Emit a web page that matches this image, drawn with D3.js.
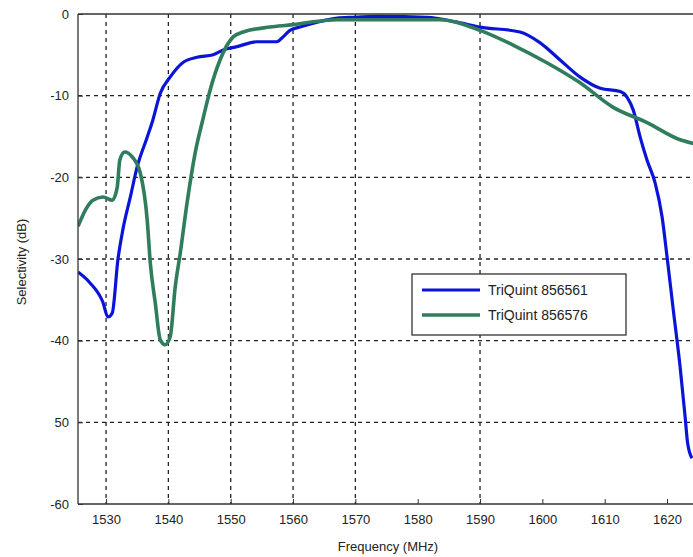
<!DOCTYPE html>
<html>
<head>
<meta charset="utf-8">
<script src="https://cdn.jsdelivr.net/npm/d3@7"></script>
<style>
  body { margin: 0; background: #fff; }
  text { font-family: "Liberation Sans", Arial, sans-serif; fill: #222; }
</style>
</head>
<body>
<div id="chart"></div>
<script>
// Frequency ticks and selectivity ticks
const xTicks = [1530, 1540, 1550, 1560, 1570, 1580, 1590, 1600, 1610, 1620];
const xGrid = [1530, 1540, 1550, 1560, 1570, 1590];   // only these show in the picture
const yTicks = [0, -10, -20, -30, -40, -50, -60];
const yTickLabels = ["0", "-10", "-20", "-30", "-40", "50", "-60"];

// TriQuint 856561 (blue)
const blueFreq = [1525.5, 1527.4, 1529.5, 1530.3, 1531.0, 1531.9, 1532.7, 1533.9, 1535.0, 1536.6,
  1537.5, 1538.7, 1540.3, 1542.4, 1544.6, 1547.2, 1548.8, 1551.0, 1554.2, 1557.4,
  1558.4, 1559.5, 1561.1, 1563.9, 1567.1, 1569.6, 1574.0, 1581.5, 1586.3, 1590.0,
  1596.4, 1599.6, 1602.8, 1606.0, 1609.3, 1612.5, 1613.6, 1614.6, 1615.7, 1616.8,
  1618.1, 1619.2, 1620.0, 1621.0, 1622.1, 1622.9, 1623.3, 1624.0];
const blueDb = [-31.6, -32.9, -35.3, -37.1, -36.6, -30.1, -26.4, -22.4, -18.7, -15.1,
  -13.0, -9.7, -7.7, -5.9, -5.3, -5.0, -4.4, -4.0, -3.4, -3.4,
  -2.8, -2.0, -1.6, -1.0, -0.5, -0.4, -0.3, -0.4, -1.0, -1.6,
  -2.2, -3.5, -5.6, -7.7, -9.1, -9.5, -10.2, -11.8, -15.1, -17.9,
  -20.7, -24.8, -29.7, -36.2, -43.2, -49.3, -52.5, -54.4];

// TriQuint 856576 (green)
const greenFreq = [1525.5, 1527.0, 1527.9, 1529.5, 1531.0, 1531.8, 1532.2, 1533.0, 1534.2, 1535.5,
  1536.6, 1537.1, 1537.9, 1538.7, 1539.5, 1540.3, 1541.1, 1541.9, 1543.0, 1544.3,
  1545.6, 1546.7, 1548.3, 1550.4, 1552.0, 1556.3, 1560.0, 1562.7, 1567.1, 1575.6,
  1583.6, 1590.0, 1595.3, 1600.8, 1606.0, 1611.3, 1616.8, 1622.1, 1624.5];
const greenDb = [-26.0, -23.6, -22.8, -22.4, -22.8, -21.2, -17.9, -16.9, -17.5, -19.5,
  -25.2, -30.5, -35.4, -39.9, -40.5, -39.5, -33.4, -29.3, -23.1, -17.0,
  -12.7, -9.3, -5.6, -2.8, -2.2, -1.6, -1.3, -1.0, -0.7, -0.7,
  -0.7, -2.0, -3.8, -6.0, -8.4, -11.4, -13.3, -15.4, -15.9];

const series = [
  { name: "TriQuint 856561", color: "#0a14d8", freq: blueFreq, db: blueDb, width: 3.2 },
  { name: "TriQuint 856576", color: "#2f7d5c", freq: greenFreq, db: greenDb, width: 3.6 }
];

const W = 693, H = 557;

const svg = d3.select("#chart").append("svg")
  .attr("width", W).attr("height", H);

// x: 1530 at 106px, 6.233 px per MHz; right side runs past the window
const x = d3.scaleLinear().domain([1525.5, 1625]).range([78, 78 + 99.5 * 6.233]);
const y = d3.scaleLinear().domain([-60, 0]).range([504, 14]);

svg.append("clipPath").attr("id", "plot-clip")
  .append("rect").attr("x", 78).attr("y", 14).attr("width", W - 78).attr("height", 490);

// gridlines
const grid = svg.append("g").attr("stroke", "#222").attr("stroke-width", 1.3)
  .attr("stroke-dasharray", "4,4");
grid.selectAll(".vgrid").data(xGrid).enter().append("line")
  .attr("x1", d => x(d)).attr("x2", d => x(d))
  .attr("y1", y(0)).attr("y2", y(-60));
grid.selectAll(".hgrid").data(yTicks.filter(d => d !== 0 && d !== -60)).enter().append("line")
  .attr("x1", 78).attr("x2", W)
  .attr("y1", d => y(d)).attr("y2", d => y(d));

// curves
const line = d3.line().curve(d3.curveMonotoneX)
  .x(d => x(d[0])).y(d => y(d[1]));
const plot = svg.append("g").attr("clip-path", "url(#plot-clip)");
series.forEach(s => {
  plot.append("path")
    .datum(s.freq.map((f, i) => [f, s.db[i]]))
    .attr("fill", "none")
    .attr("stroke", s.color)
    .attr("stroke-width", s.width)
    .attr("stroke-linejoin", "round")
    .attr("d", line);
});

// axes frame
svg.append("line").attr("x1", 78).attr("x2", W).attr("y1", 14).attr("y2", 14)
  .attr("stroke", "#333").attr("stroke-width", 1.3);
svg.append("line").attr("x1", 78).attr("x2", W).attr("y1", 504).attr("y2", 504)
  .attr("stroke", "#333").attr("stroke-width", 1.3);
svg.append("line").attr("x1", 78).attr("x2", 78).attr("y1", 14).attr("y2", 504)
  .attr("stroke", "#333").attr("stroke-width", 1.3);

// tick labels
const xAxis = svg.append("g").attr("transform", "translate(0,504)")
  .call(d3.axisBottom(x).tickValues(xTicks).tickSize(-5).tickPadding(11)
    .tickFormat(d3.format("d")));
xAxis.select(".domain").remove();
xAxis.selectAll("line").attr("stroke", "#333");
xAxis.selectAll("text").attr("font-size", 13).attr("fill", "#333");

const yAxis = svg.append("g").attr("transform", "translate(78,0)")
  .call(d3.axisLeft(y).tickValues(yTicks).tickSize(-5).tickPadding(9)
    .tickFormat((d, i) => yTickLabels[i]));
yAxis.select(".domain").remove();
yAxis.selectAll("line").attr("stroke", "#333");
yAxis.selectAll("text").attr("font-size", 13).attr("fill", "#333");

// axis titles
svg.append("text")
  .attr("x", 388).attr("y", 551)
  .attr("text-anchor", "middle").attr("font-size", 13)
  .text("Frequency (MHz)");
svg.append("text")
  .attr("transform", "translate(26,262) rotate(-90)")
  .attr("text-anchor", "middle").attr("font-size", 13)
  .text("Selectivity (dB)");

// legend
const legend = svg.append("g");
legend.append("rect")
  .attr("x", 412).attr("y", 274).attr("width", 214).attr("height", 61)
  .attr("fill", "#fff").attr("stroke", "#333").attr("stroke-width", 1.3);
series.forEach((s, i) => {
  const ly = 290 + i * 25;
  legend.append("line")
    .attr("x1", 422).attr("x2", 480).attr("y1", ly).attr("y2", ly)
    .attr("stroke", s.color).attr("stroke-width", s.width);
  legend.append("text")
    .attr("x", 488).attr("y", ly + 5).attr("font-size", 14)
    .text(s.name);
});
</script>
</body>
</html>
